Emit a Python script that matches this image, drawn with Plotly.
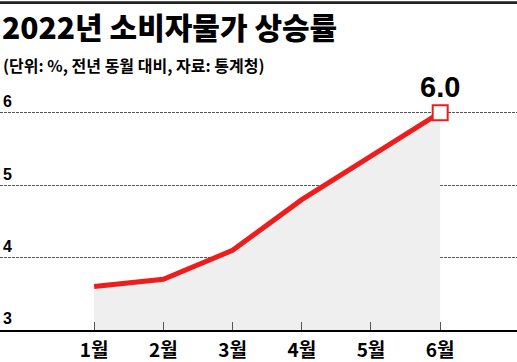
import plotly.graph_objects as go

months = ["1월", "2월", "3월", "4월", "5월", "6월"]
cpi = [3.6, 3.7, 4.1, 4.8, 5.4, 6.0]
y_ticks = [3, 4, 5, 6]
y_tick_labels = ["3", "4", "5", "6"]
title_text = "2022년 소비자물가 상승률"
subtitle_text = "(단위: %, 전년 동월 대비, 자료: 통계청)"
last_label = "6.0"

RED = "#ee1c1c"
KFONT = "Noto Sans CJK KR"
NUMFONT = "Liberation Sans Narrow, Liberation Sans, Arial"

xs = list(range(len(months)))

fig = go.Figure()
fig.add_trace(go.Scatter(
    x=xs, y=cpi, mode="lines", line=dict(color=RED, width=5),
    fill="tozeroy", fillcolor="#efefef", hoverinfo="skip",
))
fig.add_trace(go.Scatter(
    x=[xs[-1]], y=[cpi[-1]], mode="markers",
    marker=dict(symbol="square", size=15, color="white",
                line=dict(color=RED, width=2)),
    cliponaxis=False, hoverinfo="skip",
))

fig.add_annotation(x=xs[-1], y=cpi[-1], text=last_label, showarrow=False,
                   yshift=26, font=dict(family=NUMFONT, size=29, color="black", weight="bold"))
fig.add_annotation(x=0, y=1.272, xref="paper", yref="paper", xanchor="left",
                   yanchor="middle", text=title_text, showarrow=False, xshift=0,
                   font=dict(family=KFONT, size=30, color="black", weight=900))
fig.add_annotation(x=0, y=1.107, xref="paper", yref="paper", xanchor="left",
                   yanchor="middle", text=subtitle_text, showarrow=False, xshift=1,
                   font=dict(family=KFONT, size=16, color="black", weight="bold"))
# top rule
fig.add_shape(type="rect", xref="paper", yref="paper", x0=0, x1=1,
              y0=1.364, y1=1.376, fillcolor="#222", line_width=0, layer="above")

fig.update_layout(
    width=517, height=362,
    margin=dict(l=0, r=0, t=91, b=29),
    paper_bgcolor="white", plot_bgcolor="white",
    showlegend=False,
    xaxis=dict(range=[-1.36, 6.11], tickvals=xs, ticktext=months,
               showgrid=False, zeroline=False, showline=True,
               linecolor="black", linewidth=2, ticks="inside", ticklen=8,
               tickcolor="#555", tickwidth=1, ticklabelstandoff=2,
               tickfont=dict(family=KFONT, size=19, color="black", weight="bold")),
    yaxis=dict(range=[3, 6.3], tickvals=y_ticks, ticktext=y_tick_labels,
               showgrid=True, gridcolor="#555", griddash="3px,1px", gridwidth=1,
               zeroline=False, showline=False, ticks="",
               ticklabelposition="inside top",
               tickfont=dict(family=NUMFONT, size=16, color="black", weight="bold")),
)

fig.write_html("out.html", config={"displayModeBar": False},
               post_script="document.body.style.margin='0';")
